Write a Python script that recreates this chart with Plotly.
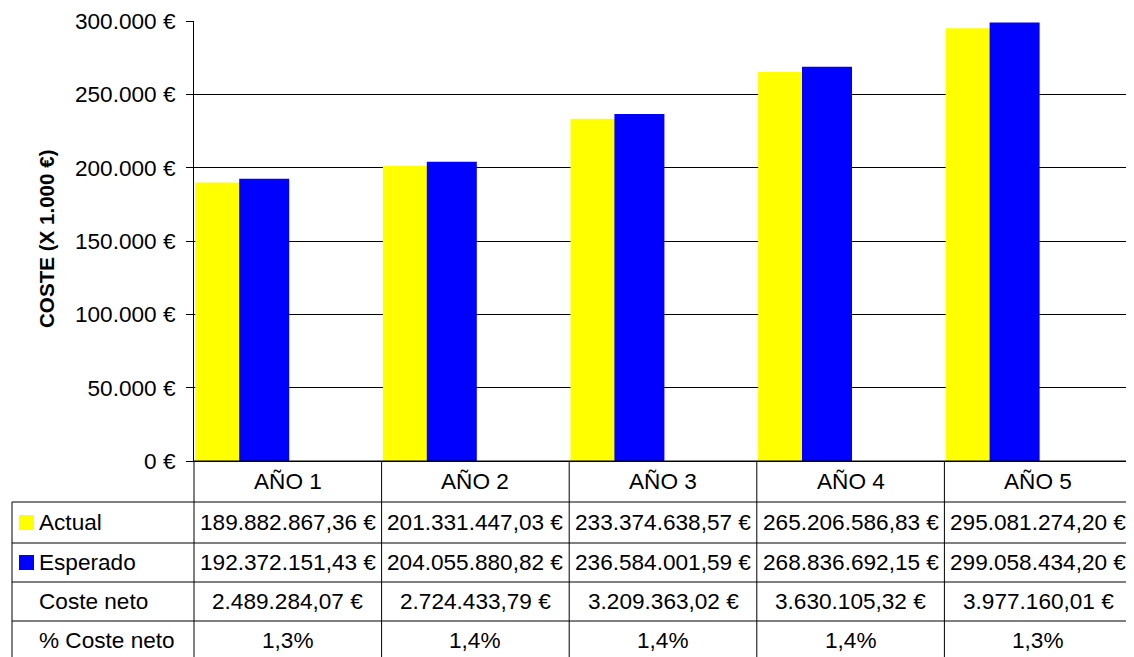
import plotly.graph_objects as go

# ---------------- data ----------------
categorias = ["AÑO 1", "AÑO 2", "AÑO 3", "AÑO 4", "AÑO 5"]
actual = [189882867.36, 201331447.03, 233374638.57, 265206586.83, 295081274.20]
esperado = [192372151.43, 204055880.82, 236584001.59, 268836692.15, 299058434.20]
coste_neto = [2489284.07, 2724433.79, 3209363.02, 3630105.32, 3977160.01]
pct_coste_neto = [1.3, 1.4, 1.4, 1.4, 1.3]
serie_nombres = ["Actual", "Esperado"]
fila_nombres = ["Coste neto", "% Coste neto"]
y_ticks = [0, 50000, 100000, 150000, 200000, 250000, 300000]
titulo_y = "COSTE (X 1.000 €)"

# ---------------- layout constants ----------------
OFF = 8  # page body margin of the html page
W, H = 1134 - OFF, 657 - OFF
L, T = 194 - OFF, 21 - OFF
R = W - (1132 - OFF)
B = H - (461 - OFF)
PW, PH = W - L - R, H - T - B
FONT = "Liberation Sans, Arial, sans-serif"
FS = 22.6
COL_Y = "#ffff00"
COL_B = "#0000ff"


def px_x(px):
    return (px - OFF - L) / PW


def px_y(py):
    return (H - B - (py - OFF)) / PH


def miles(v):
    return f"{v:,.0f}".replace(",", ".")


def eur(v):
    s = f"{v:,.2f}"
    s = s.replace(",", "X").replace(".", ",").replace("X", ".")
    return s + " €"


def pct(v):
    return f"{v:.1f}".replace(".", ",") + "%"


xs = list(range(len(categorias)))

fig = go.Figure()
fig.add_trace(go.Bar(
    x=xs, y=[v / 1000 for v in actual], name=serie_nombres[0],
    marker=dict(color=COL_Y, line=dict(width=0)),
    offset=-0.493, width=0.243, showlegend=False, hoverinfo="skip",
))
fig.add_trace(go.Bar(
    x=xs, y=[v / 1000 for v in esperado], name=serie_nombres[1],
    marker=dict(color=COL_B, line=dict(width=0)),
    offset=-0.259, width=0.2665, showlegend=False, hoverinfo="skip",
))

# ---------------- table geometry (reference pixels) ----------------
row_lines = [461, 502, 543, 582, 621, 660]
left_px = 12
shapes = []
line = dict(color="black", width=1)
for i, yy in enumerate(row_lines):
    x0 = 0 if i == 0 else px_x(left_px)
    shapes.append(dict(type="line", xref="paper", yref="paper",
                       x0=x0, x1=1, y0=px_y(yy), y1=px_y(yy), line=line, layer="above"))
for k in range(len(categorias) + 1):
    xx = k / len(categorias)
    shapes.append(dict(type="line", xref="paper", yref="paper",
                       x0=xx, x1=xx, y0=px_y(row_lines[0]), y1=px_y(row_lines[-1]),
                       line=line, layer="above"))
shapes.append(dict(type="line", xref="paper", yref="paper",
                   x0=px_x(left_px), x1=px_x(left_px),
                   y0=px_y(row_lines[1]), y1=px_y(row_lines[-1]), line=line, layer="above"))
for r, col in zip([1, 2], [COL_Y, COL_B]):
    cy = (row_lines[r] + row_lines[r + 1]) / 2
    shapes.append(dict(type="rect", xref="paper", yref="paper",
                       x0=px_x(19), x1=px_x(34), y0=px_y(cy - 7.5), y1=px_y(cy + 7.5),
                       fillcolor=col, line=dict(width=0), layer="above"))

annotations = []
font = dict(family=FONT, size=FS, color="black")


def row_center(r):
    return px_y((row_lines[r] + row_lines[r + 1]) / 2)


for i, c in enumerate(categorias):
    textos = [c, eur(actual[i]), eur(esperado[i]), eur(coste_neto[i]), pct(pct_coste_neto[i])]
    for r, t in enumerate(textos):
        annotations.append(dict(x=i, xref="x", y=row_center(r), yref="paper", text=t,
                                showarrow=False, font=font, xanchor="center", yanchor="middle"))

for r, label in zip([1, 2, 3, 4], serie_nombres + fila_nombres):
    annotations.append(dict(x=px_x(37), xref="paper", y=row_center(r), yref="paper", text=label,
                            showarrow=False, font=font, xanchor="left", yanchor="middle"))

annotations.append(dict(x=px_x(46), xref="paper", y=px_y(239), yref="paper", text=f"<b>{titulo_y}</b>",
                        textangle=-90, showarrow=False,
                        font=dict(family=FONT, size=20.6, color="black"),
                        xanchor="center", yanchor="middle"))

fig.update_layout(
    width=W, height=H,
    margin=dict(l=L, r=R, t=T, b=B, autoexpand=False),
    paper_bgcolor="white", plot_bgcolor="white",
    barmode="overlay",
    shapes=shapes, annotations=annotations,
    font=font,
    xaxis=dict(range=[-0.5, len(categorias) - 0.5], showticklabels=False, ticks="",
               showgrid=False, zeroline=False, showline=True, linecolor="black", linewidth=1,
               fixedrange=True),
    yaxis=dict(range=[0, 300000], tickmode="array", tickvals=y_ticks,
               ticktext=[miles(v) + " €" for v in y_ticks],
               showgrid=True, gridcolor="black", gridwidth=1, zeroline=False,
               showline=True, linecolor="black", linewidth=1,
               ticks="outside", ticklen=7, tickcolor="black",
               ticklabelstandoff=6, automargin=False,
               tickfont=dict(family=FONT, size=FS, color="black"), fixedrange=True),
)

fig.write_html("out.html")
